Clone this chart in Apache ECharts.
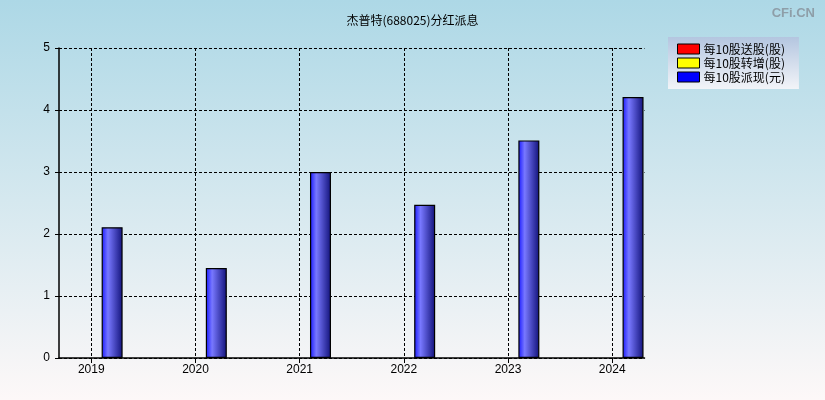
<!DOCTYPE html>
<html>
<head>
<meta charset="utf-8">
<script src="https://cdn.jsdelivr.net/npm/echarts@6/dist/echarts.min.js"></script>
<style>
  html, body { margin: 0; padding: 0; }
  #chart { width: 825px; height: 400px; }
</style>
</head>
<body>
<div id="chart"></div>
<script>
// 年份与每10股派现（元）
const years = [2019, 2020, 2021, 2022, 2023, 2024]
const cashDividend = [2.11, 1.45, 3.0, 2.47, 3.51, 4.21]
const bonusShares = []
const transferShares = []

const barOffset = 0.2

const chart = echarts.init(document.getElementById('chart'))

const blueBar = new echarts.graphic.LinearGradient(0, 0, 1, 0, [
  { offset: 0, color: '#1818ff' },
  { offset: 0.3, color: '#7878ff' },
  { offset: 1, color: '#12127a' },
])

const option = {
  backgroundColor: new echarts.graphic.LinearGradient(0, 0, 0, 1, [
    { offset: 0, color: '#add8e6' },
    { offset: 1, color: '#fdf8f8' },
  ]),
  animation: false,
  textStyle: { fontFamily: 'Liberation Sans, sans-serif' },
  title: [
    {
      text: '杰普特(688025)分红派息',
      left: 'center',
      top: 9,
      textStyle: { fontSize: 12, fontWeight: 'normal', color: '#000', fontFamily: 'Noto Sans CJK SC' },
    },
    {
      text: 'CFi.CN',
      right: 5,
      top: 2,
      textStyle: { fontSize: 13, fontWeight: 'bold', color: '#8e9ea8', fontFamily: 'Liberation Sans' },
    },
  ],
  legend: {
    orient: 'vertical',
    left: 668,
    top: 37,
    padding: [6, 14, 6, 9],
    itemWidth: 22,
    itemHeight: 10,
    itemGap: 2,
    icon: 'rect',
    backgroundColor: new echarts.graphic.LinearGradient(0, 0, 0, 1, [
      { offset: 0, color: '#b4c6e0' },
      { offset: 1, color: '#f2f4f8' },
    ]),
    textStyle: { fontSize: 12, color: '#000', lineHeight: 12, fontFamily: 'Noto Sans CJK SC', padding: [0, 0, 0, -1] },
    data: ['每10股送股(股)', '每10股转增(股)', '每10股派现(元)'],
  },
  grid: { left: 59, right: 180.5, top: 48, bottom: 42 },
  xAxis: {
    type: 'value',
    min: 2018.69,
    max: 2024.31,
    axisLine: { lineStyle: { color: '#000', width: 1.5 } },
    axisTick: { customValues: years, length: 5, lineStyle: { color: '#000' } },
    axisLabel: { customValues: years, color: '#000', fontSize: 12, margin: 6, formatter: v => String(v) },
    splitLine: { show: true, lineStyle: { color: '#000', type: [3, 2] } },
  },
  yAxis: {
    type: 'value',
    min: 0,
    max: 5,
    interval: 1,
    axisLine: { show: true, lineStyle: { color: '#000', width: 1.5 } },
    axisTick: { show: true, length: 4, lineStyle: { color: '#000' } },
    axisLabel: { color: '#000', fontSize: 12, margin: 9 },
    splitLine: { show: true, lineStyle: { color: '#000', type: [3, 2] } },
  },
  series: [
    {
      name: '每10股送股(股)',
      type: 'bar',
      data: bonusShares,
      itemStyle: { color: '#ff0000', borderColor: '#000', borderWidth: 1 },
    },
    {
      name: '每10股转增(股)',
      type: 'bar',
      data: transferShares,
      itemStyle: { color: '#ffff00', borderColor: '#000', borderWidth: 1 },
    },
    {
      name: '每10股派现(元)',
      type: 'bar',
      barWidth: 21,
      barGap: '-100%',
      data: years.map((y, i) => [y + barOffset, cashDividend[i]]),
      itemStyle: { color: blueBar, borderColor: '#000', borderWidth: 1.2 },
    },
  ],
}

// 图例色块用纯色
option.legend.data = option.series.map((s, i) => ({
  name: s.name,
  itemStyle: { color: ['#ff0000', '#ffff00', '#0000ff'][i], borderColor: '#000', borderWidth: 1 },
}))

chart.setOption(option)
</script>
</body>
</html>
